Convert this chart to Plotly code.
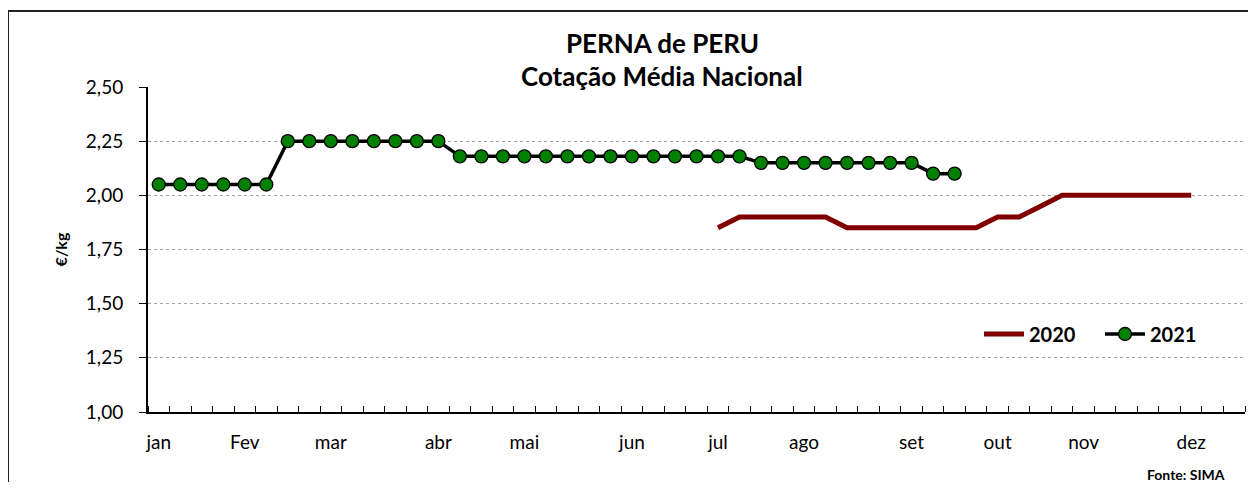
import plotly.graph_objects as go

# ---- data ----
n_weeks = 51
month_labels = ["jan", "Fev", "mar", "abr", "mai", "jun", "jul", "ago", "set", "out", "nov", "dez"]
month_pos = [0, 4, 8, 13, 17, 22, 26, 30, 35, 39, 43, 48]

weeks_2021 = list(range(0, 38))
values_2021 = [2.05] * 6 + [2.25] * 8 + [2.18] * 14 + [2.15] * 8 + [2.10] * 2

weeks_2020 = list(range(26, 49))
values_2020 = [1.85] + [1.90] * 5 + [1.85] * 7 + [1.90] * 2 + [1.95] + [2.00] * 7

FONT = "Lato, Calibri, Carlito, sans-serif"

# ---- layout geometry (pixels); page body has an 8px margin on every side ----
OFF = 8
W, H = 1240, 474
L, T = 148 - OFF, 87 - OFF
R = W - (1245 - OFF)
B = H - (412 - OFF)
pw, ph = W - L - R, H - T - B

def px(x):  # reference-image x pixel -> paper coord
    return (x - OFF - L) / pw

def py(y):  # reference-image y pixel -> paper coord
    return (H - B - (y - OFF)) / ph

fig = go.Figure()
fig.add_trace(go.Scatter(
    x=weeks_2020, y=values_2020, name="2020", mode="lines",
    line=dict(color="#800000", width=5),
))
fig.add_trace(go.Scatter(
    x=weeks_2021, y=values_2021, name="2021", mode="lines+markers",
    line=dict(color="#000000", width=3.5),
    marker=dict(color="#008000", size=13, line=dict(color="#000000", width=1.3)),
))

fig.update_layout(
    width=W, height=H,
    margin=dict(l=L, r=R, t=T, b=B, autoexpand=False),
    plot_bgcolor="white", paper_bgcolor="white",
    font=dict(family=FONT, size=19, color="black"),
    showlegend=True,
    legend=dict(
        orientation="h", x=px(979), y=py(334), xanchor="left", yanchor="middle",
        font=dict(family=FONT, size=20, color="black", weight="bold"),
        bgcolor="rgba(0,0,0,0)", itemwidth=40, entrywidth=66,
        tracegroupgap=0,
    ),
    xaxis=dict(
        range=[-0.5, n_weeks - 0.5],
        tickmode="array", tickvals=month_pos, ticktext=month_labels,
        ticks="", showgrid=False, zeroline=False,
        showline=True, linecolor="black", linewidth=2,
        tickfont=dict(family=FONT, size=19),
        minor=dict(ticks="inside", tick0=-0.5, dtick=1, ticklen=6,
                   tickcolor="black", tickwidth=1.3, showgrid=False),
        ticklabelstandoff=12,
    ),
    yaxis=dict(
        range=[1.0, 2.5], tickmode="array",
        tickvals=[1.0, 1.25, 1.5, 1.75, 2.0, 2.25, 2.5],
        ticktext=["1,00", "1,25", "1,50", "1,75", "2,00", "2,25", "2,50"],
        ticks="outside", ticklen=7, tickcolor="black", tickwidth=1.3,
        showline=True, linecolor="black", linewidth=2,
        showgrid=True, gridcolor="#a0a0a0", griddash="dot", gridwidth=1,
        zeroline=False, tickfont=dict(family=FONT, size=19),
        ticklabelstandoff=12,
        title=dict(text="<b>€/kg</b>", font=dict(family=FONT, size=16), standoff=14),
    ),
    annotations=[
        dict(text="<b>PERNA de PERU</b>", x=px(662), y=py(43), xref="paper", yref="paper",
             showarrow=False, font=dict(family=FONT, size=26), xanchor="center", yanchor="middle"),
        dict(text="<b>Cotação Média Nacional</b>", x=px(662), y=py(76), xref="paper", yref="paper",
             showarrow=False, font=dict(family=FONT, size=26), xanchor="center", yanchor="middle"),
        dict(text="<b>Fonte: SIMA</b>", x=px(1186), y=py(474), xref="paper", yref="paper",
             showarrow=False, font=dict(family=FONT, size=14), xanchor="center", yanchor="middle"),
    ],
    shapes=[
        dict(type="line", xref="paper", yref="paper",
             x0=px(8), y0=py(11), x1=1 + (W - L - pw) / pw, y1=py(11),
             line=dict(color="#222222", width=2), layer="below"),
        dict(type="line", xref="paper", yref="paper",
             x0=px(8), y0=py(11), x1=px(8), y1=-B / ph,
             line=dict(color="#222222", width=2), layer="below"),
    ],
)

fig.write_html("out.html")
